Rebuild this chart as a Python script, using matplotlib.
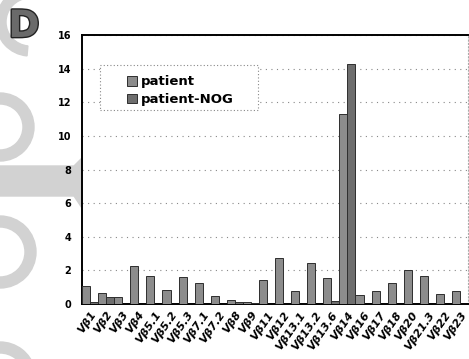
import numpy as np
import matplotlib
matplotlib.use("Agg")
import matplotlib.pyplot as plt
from matplotlib.patches import Wedge, Rectangle, Polygon
import matplotlib.patheffects as pe

# Vβ repertoire (%)
categories = ["Vβ1", "Vβ2", "Vβ3", "Vβ4", "Vβ5.1", "Vβ5.2", "Vβ5.3", "Vβ7.1",
              "Vβ7.2", "Vβ8", "Vβ9", "Vβ11", "Vβ12", "Vβ13.1", "Vβ13.2",
              "Vβ13.6", "Vβ14", "Vβ16", "Vβ17", "Vβ18", "Vβ20", "Vβ21.3",
              "Vβ22", "Vβ23"]
patient = [1.1, 0.65, 0.45, 2.25, 1.7, 0.85, 1.6, 1.25, 0.5, 0.25, 0.1, 1.45,
           2.75, 0.8, 2.45, 1.55, 11.3, 0.55, 0.8, 1.25, 2.0, 1.65, 0.6, 0.8]
patient_nog = [0.1, 0.4, 0.0, 0.0, 0.0, 0.0, 0.0, 0.0, 0.0, 0.1, 0.05, 0.0,
               0.0, 0.0, 0.0, 0.2, 14.3, 0.0, 0.0, 0.0, 0.0, 0.0, 0.0, 0.0]
yticks = [0, 2, 4, 6, 8, 10, 12, 14, 16]

DECO = "#d2d2d2"

fig = plt.figure(figsize=(4.69, 3.59), dpi=100)
fig.set_facecolor("white")

# faint scanned background decoration on the left (pixel coordinates)
bg = fig.add_axes([0, 0, 1, 1], zorder=0)
bg.set_xlim(0, 469)
bg.set_ylim(359, 0)
bg.axis("off")
bg.add_patch(Wedge((0, 127), 34, -90, 90, width=11, color=DECO))
bg.add_patch(Wedge((0, 252), 36, -90, 90, width=11, color=DECO))
bg.add_patch(Wedge((0, 378), 36, -90, 60, width=11, color=DECO))
bg.add_patch(Wedge((30, 22), 34, 95, 265, width=10, color=DECO))
bg.add_patch(Polygon([(0, 166), (74, 166), (82, 158), (82, 208), (74, 196), (0, 196)],
                     closed=True, color=DECO))

ax = fig.add_axes([0.175, 0.153, 0.823, 0.749], zorder=1)
ax.patch.set_alpha(0)

x = np.arange(len(categories))
bw = 0.5
ax.bar(x - bw / 2, patient, width=bw, color="#8c8c8c", edgecolor="#2e2e2e",
       linewidth=0.7, label="patient", zorder=3)
ax.bar(x + bw / 2, patient_nog, width=bw, color="#6e6e6e", edgecolor="#2e2e2e",
       linewidth=0.7, label="patient-NOG", zorder=3)

ax.set_xlim(-0.5, len(categories) - 0.5)
ax.set_ylim(0, 16)
ax.set_yticks(yticks)
ax.set_yticklabels([str(v) for v in yticks], fontsize=7, fontweight="bold")
ax.set_xticks(x)
ax.set_xticklabels(categories, rotation=55, ha="right", va="top",
                   rotation_mode="anchor", fontsize=8, fontweight="bold",
                   style="italic")
ax.tick_params(axis="y", length=0, pad=8)
ax.tick_params(axis="x", length=0, pad=4)

ax.grid(axis="y", linestyle=(0, (1, 4)), color="#888888", linewidth=0.8, zorder=0)

for side in ["left", "bottom", "top"]:
    ax.spines[side].set_color("black")
    ax.spines[side].set_linewidth(1.4)
ax.spines["right"].set_color("#aaaaaa")
ax.spines["right"].set_linestyle((0, (1, 2)))
ax.spines["right"].set_linewidth(0.8)

# legend box drawn separately so its size matches the scan
ax.add_patch(Rectangle((0.047, 0.721), 0.409, 0.167, transform=ax.transAxes,
                       facecolor="white", edgecolor="#888888",
                       linestyle=(0, (1, 2)), linewidth=0.8, zorder=4))
leg = ax.legend(loc="upper left", bbox_to_anchor=(0.1, 0.875), fontsize=9.5,
                frameon=False, handlelength=0.75, handleheight=0.75,
                handletextpad=0.25, borderpad=0.0, labelspacing=0.35)
leg.set_zorder(5)
for t in leg.get_texts():
    t.set_fontweight("bold")

fig.text(0.018, 0.975, "D", fontsize=27, fontweight="bold", color="#6a6a6a",
         va="top", ha="left", zorder=2,
         path_effects=[pe.withStroke(linewidth=2, foreground="#222222")])

fig.savefig("out.png", dpi=100, facecolor="white")
